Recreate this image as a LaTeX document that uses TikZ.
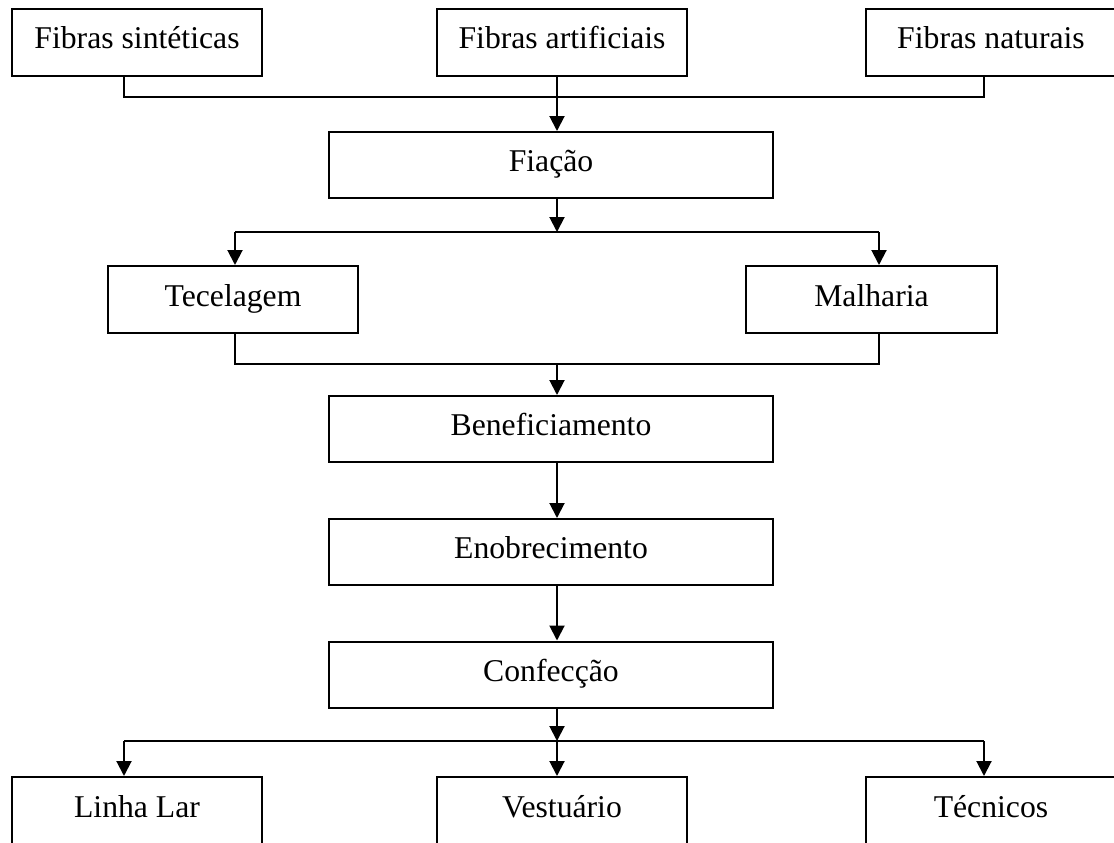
\documentclass[tikz,border=0pt]{standalone}
\usepackage{fontspec}
\setmainfont{Liberation Serif}
\usetikzlibrary{arrows.meta}

\begin{document}
\begin{tikzpicture}[x=1pt,y=-1pt,line width=2pt]
\tikzstyle{caixa}=[draw=black,rectangle,inner sep=0pt,minimum height=67pt,text height=20pt,text depth=7pt,font=\fontsize{31.7}{38}\selectfont]
\tikzstyle{seta}=[-{Triangle[width=15pt,length=15pt]}]
\useasboundingbox (0,0) rectangle (1114,843);
% fibras
\node [caixa,minimum width=250pt] (sint) at (137,42.5) {Fibras sintéticas};
\node [caixa,minimum width=250pt] (art) at (562,42.5) {Fibras artificiais};
\node [caixa,minimum width=250pt] (nat) at (991,42.5) {Fibras naturais};
% etapas
\node [caixa,minimum width=444pt,minimum height=66pt] (fia) at (551,165) {Fiação};
\node [caixa,minimum width=250pt] (tec) at (233,299.5) {Tecelagem};
\node [caixa,minimum width=251pt] (mal) at (871.5,299.5) {Malharia};
\node [caixa,minimum width=444pt,minimum height=66pt] (ben) at (551,429) {Beneficiamento};
\node [caixa,minimum width=444pt,minimum height=66pt] (eno) at (551,552) {Enobrecimento};
\node [caixa,minimum width=444pt,minimum height=66pt] (conf) at (551,674.5) {Confecção};
% produtos
\node [caixa,minimum width=250pt] (lar) at (137,810.5) {Linha Lar};
\node [caixa,minimum width=250pt] (vest) at (562,810.5) {Vestuário};
\node [caixa,minimum width=250pt] (tec2) at (991,810.5) {Técnicos};
% barramentos
\coordinate (j1) at (557,97);
\coordinate (j1l) at (124,97);
\coordinate (j1r) at (984,97);
\coordinate (j2) at (557,232);
\coordinate (j2l) at (235,232);
\coordinate (j2r) at (879,232);
\coordinate (j3) at (557,364);
\coordinate (j3l) at (235,364);
\coordinate (j3r) at (879,364);
\coordinate (j4) at (557,741);
\coordinate (j4l) at (124,741);
\coordinate (j4r) at (984,741);
% ligacoes
\draw (j1l |- sint.south) -- (j1l) -- (j1r) -- (j1r |- nat.south);
\draw [seta] (j1 |- art.south) -- (j1 |- fia.north);
\draw [seta] (j2 |- fia.south) -- (j2);
\draw (j2l) -- (j2r);
\draw [seta] (j2l) -- (j2l |- tec.north);
\draw [seta] (j2r) -- (j2r |- mal.north);
\draw (j3l |- tec.south) -- (j3l) -- (j3r) -- (j3r |- mal.south);
\draw [seta] (j3) -- (j3 |- ben.north);
\draw [seta] (j3 |- ben.south) -- (j3 |- eno.north);
\draw [seta] (j3 |- eno.south) -- (j3 |- conf.north);
\draw [seta] (j4 |- conf.south) -- (j4);
\draw (j4l) -- (j4r);
\draw [seta] (j4l) -- (j4l |- lar.north);
\draw [seta] (j4) -- (j4 |- vest.north);
\draw [seta] (j4r) -- (j4r |- tec2.north);
\end{tikzpicture}
\end{document}
